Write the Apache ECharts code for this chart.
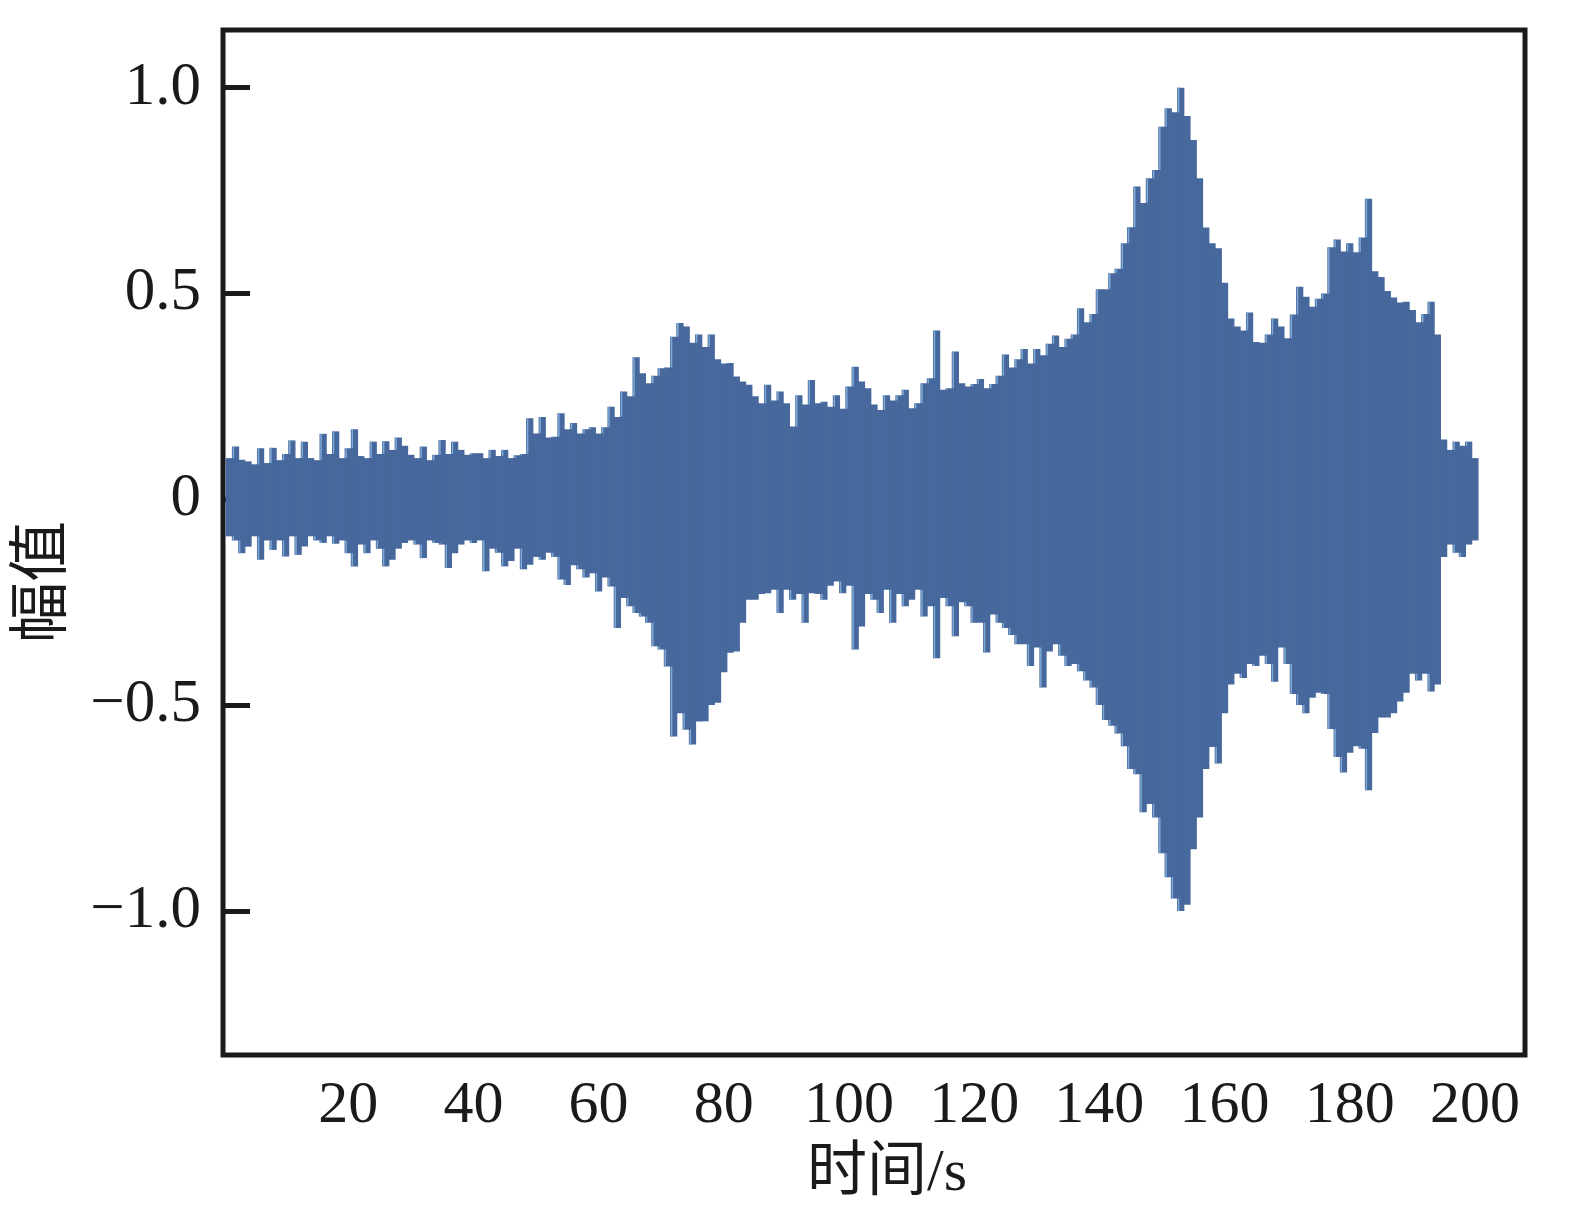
<!DOCTYPE html>
<html>
<head>
<meta charset="utf-8">
<title>幅值-时间</title>
<script src="https://cdn.jsdelivr.net/npm/echarts@6/dist/echarts.min.js"></script>
<style>
  html, body { margin: 0; padding: 0; background: #fff; }
  #chart { width: 1579px; height: 1218px; }
</style>
</head>
<body>
<div id="chart"></div>
<script>
// envelope of the signal, one value per second (t = 1 ... 200)
const upper = [
  0.10, 0.128, 0.096, 0.092, 0.085, 0.124, 0.088, 0.125, 0.095, 0.11,
  0.143, 0.10, 0.14, 0.10, 0.095, 0.159, 0.11, 0.165, 0.10, 0.124,
  0.17, 0.105, 0.10, 0.14, 0.11, 0.141, 0.12, 0.15, 0.13, 0.108,
  0.10, 0.128, 0.095, 0.108, 0.144, 0.11, 0.14, 0.12, 0.108, 0.112,
  0.112, 0.10, 0.12, 0.105, 0.12, 0.10, 0.107, 0.11, 0.197, 0.16,
  0.20, 0.15, 0.152, 0.209, 0.17, 0.185, 0.16, 0.17, 0.175, 0.16,
  0.175, 0.225, 0.20, 0.262, 0.25, 0.345, 0.306, 0.282, 0.30, 0.318,
  0.32, 0.395, 0.428, 0.42, 0.38, 0.40, 0.37, 0.40, 0.34, 0.33,
  0.331, 0.298, 0.286, 0.278, 0.25, 0.233, 0.278, 0.24, 0.262, 0.233,
  0.177, 0.253, 0.23, 0.29, 0.233, 0.237, 0.225, 0.253, 0.22, 0.274,
  0.322, 0.286, 0.27, 0.23, 0.217, 0.253, 0.24, 0.253, 0.266, 0.221,
  0.233, 0.282, 0.294, 0.41, 0.266, 0.27, 0.359, 0.282, 0.274, 0.28,
  0.292, 0.27, 0.28, 0.30, 0.352, 0.32, 0.34, 0.365, 0.33, 0.365,
  0.35, 0.378, 0.398, 0.37, 0.39, 0.40, 0.464, 0.43, 0.45, 0.51,
  0.51, 0.549, 0.56, 0.622, 0.661, 0.76, 0.72, 0.78, 0.80, 0.905,
  0.95, 0.94, 1.0, 0.931, 0.873, 0.78, 0.66, 0.622, 0.61, 0.526,
  0.439, 0.42, 0.41, 0.454, 0.382, 0.38, 0.40, 0.439, 0.42, 0.391,
  0.449, 0.516, 0.492, 0.468, 0.487, 0.50, 0.612, 0.631, 0.602, 0.622,
  0.60, 0.636, 0.73, 0.554, 0.54, 0.506, 0.49, 0.478, 0.48, 0.46,
  0.43, 0.45, 0.48, 0.40, 0.145, 0.12, 0.14, 0.13, 0.14, 0.10
];
const lower = [
  -0.09, -0.10, -0.131, -0.115, -0.09, -0.147, -0.10, -0.123, -0.10, -0.139,
  -0.09, -0.135, -0.115, -0.09, -0.10, -0.106, -0.09, -0.108, -0.10, -0.131,
  -0.163, -0.11, -0.131, -0.10, -0.12, -0.163, -0.147, -0.12, -0.106, -0.10,
  -0.11, -0.143, -0.10, -0.106, -0.11, -0.167, -0.131, -0.11, -0.10, -0.106,
  -0.10, -0.175, -0.12, -0.13, -0.163, -0.15, -0.12, -0.17, -0.159, -0.14,
  -0.147, -0.13, -0.14, -0.195, -0.208, -0.16, -0.17, -0.19, -0.18, -0.224,
  -0.19, -0.212, -0.313, -0.24, -0.26, -0.276, -0.285, -0.30, -0.357, -0.365,
  -0.406, -0.576, -0.52, -0.56, -0.596, -0.54, -0.539, -0.50, -0.494, -0.42,
  -0.373, -0.37, -0.30, -0.244, -0.244, -0.23, -0.228, -0.22, -0.276, -0.22,
  -0.244, -0.23, -0.30, -0.228, -0.23, -0.244, -0.21, -0.20, -0.228, -0.21,
  -0.365, -0.309, -0.23, -0.244, -0.276, -0.22, -0.30, -0.23, -0.26, -0.244,
  -0.22, -0.285, -0.26, -0.386, -0.24, -0.26, -0.333, -0.25, -0.26, -0.30,
  -0.30, -0.372, -0.28, -0.30, -0.313, -0.33, -0.352, -0.352, -0.405, -0.36,
  -0.457, -0.37, -0.352, -0.38, -0.405, -0.40, -0.418, -0.44, -0.457, -0.50,
  -0.536, -0.55, -0.569, -0.60, -0.655, -0.668, -0.76, -0.74, -0.773, -0.86,
  -0.918, -0.97, -1.0, -0.985, -0.85, -0.773, -0.655, -0.602, -0.642, -0.52,
  -0.45, -0.424, -0.434, -0.40, -0.405, -0.38, -0.40, -0.443, -0.36, -0.40,
  -0.473, -0.50, -0.52, -0.482, -0.47, -0.473, -0.558, -0.626, -0.664, -0.616,
  -0.60, -0.606, -0.707, -0.568, -0.53, -0.53, -0.52, -0.491, -0.47, -0.424,
  -0.44, -0.424, -0.467, -0.45, -0.14, -0.11, -0.13, -0.14, -0.11, -0.10
];
const xTicks = [20, 40, 60, 80, 100, 120, 140, 160, 180, 200];
const yTicks = [-1.0, -0.5, 0, 0.5, 1.0];

const seconds = upper.map((v, i) => i + 1);
const seriesData = seconds.map((t, i) => [t, lower[i], upper[i]]);

const FONT = "'Liberation Serif', 'Noto Sans CJK SC', serif";
const INK = '#1a1a1a';
const BODY = '#47689c';
const EDGE = '#7eaad6';

const chart = echarts.init(document.getElementById('chart'));

chart.setOption({
  animation: false,
  backgroundColor: '#ffffff',
  grid: {
    left: 223,
    right: 54,
    top: 30,
    bottom: 163,
    show: true,
    borderColor: INK,
    borderWidth: 5,
  },
  xAxis: {
    type: 'value',
    min: 0,
    max: 208,
    axisLine: { show: false },
    splitLine: { show: false },
    axisTick: {
      inside: true,
      length: 26,
      customValues: xTicks,
      lineStyle: { color: INK, width: 5 },
    },
    axisLabel: {
      customValues: xTicks,
      margin: 21,
      color: INK,
      fontSize: 60,
      fontFamily: FONT,
    },
  },
  yAxis: {
    type: 'value',
    min: -1.35,
    max: 1.14,
    axisLine: { show: false },
    splitLine: { show: false },
    axisTick: {
      inside: true,
      length: 27,
      customValues: yTicks,
      lineStyle: { color: INK, width: 5 },
    },
    axisLabel: {
      customValues: yTicks,
      margin: 22,
      color: INK,
      fontSize: 61,
      fontFamily: FONT,
      formatter: (v) => (v === 0 ? '0' : v.toFixed(1).replace('-', '\u2212')),
    },
  },
  graphic: [
    {
      type: 'text',
      x: 887,
      y: 1174,
      style: {
        text: '时间/s',
        fontSize: 60,
        fontFamily: FONT,
        fill: INK,
        align: 'center',
        verticalAlign: 'middle',
      },
    },
    {
      type: 'text',
      x: 45,
      y: 582,
      rotation: Math.PI / 2,
      style: {
        text: '幅值',
        fontSize: 61,
        fontFamily: FONT,
        fill: INK,
        align: 'center',
        verticalAlign: 'middle',
      },
    },
  ],
  series: [
    {
      type: 'custom',
      data: seriesData,
      clip: true,
      renderItem(params, api) {
        const i = params.dataIndex;
        const t = api.value(0);
        const hi = api.value(2);
        const lo = api.value(1);
        const p1 = api.coord([t - 0.5, hi]);
        const p2 = api.coord([t + 0.5, lo]);
        const children = [
          {
            type: 'rect',
            shape: {
              x: p1[0] - 0.5,
              y: p1[1],
              width: p2[0] - p1[0] + 1,
              height: p2[1] - p1[1],
            },
            style: { fill: BODY },
          },
        ];
        // light edge where the step rises above / drops below the previous second
        if (i > 0) {
          const prevHi = api.coord([t, upper[i - 1]])[1];
          const prevLo = api.coord([t, lower[i - 1]])[1];
          if (prevHi > p1[1]) {
            children.push({
              type: 'line',
              shape: { x1: p1[0] + 1, y1: p1[1], x2: p1[0] + 1, y2: prevHi },
              style: { stroke: EDGE, lineWidth: 1.5 },
            });
          }
          if (prevLo < p2[1]) {
            children.push({
              type: 'line',
              shape: { x1: p1[0] + 1, y1: prevLo, x2: p1[0] + 1, y2: p2[1] },
              style: { stroke: EDGE, lineWidth: 1.5 },
            });
          }
        }
        return { type: 'group', children };
      },
    },
  ],
});
</script>
</body>
</html>
